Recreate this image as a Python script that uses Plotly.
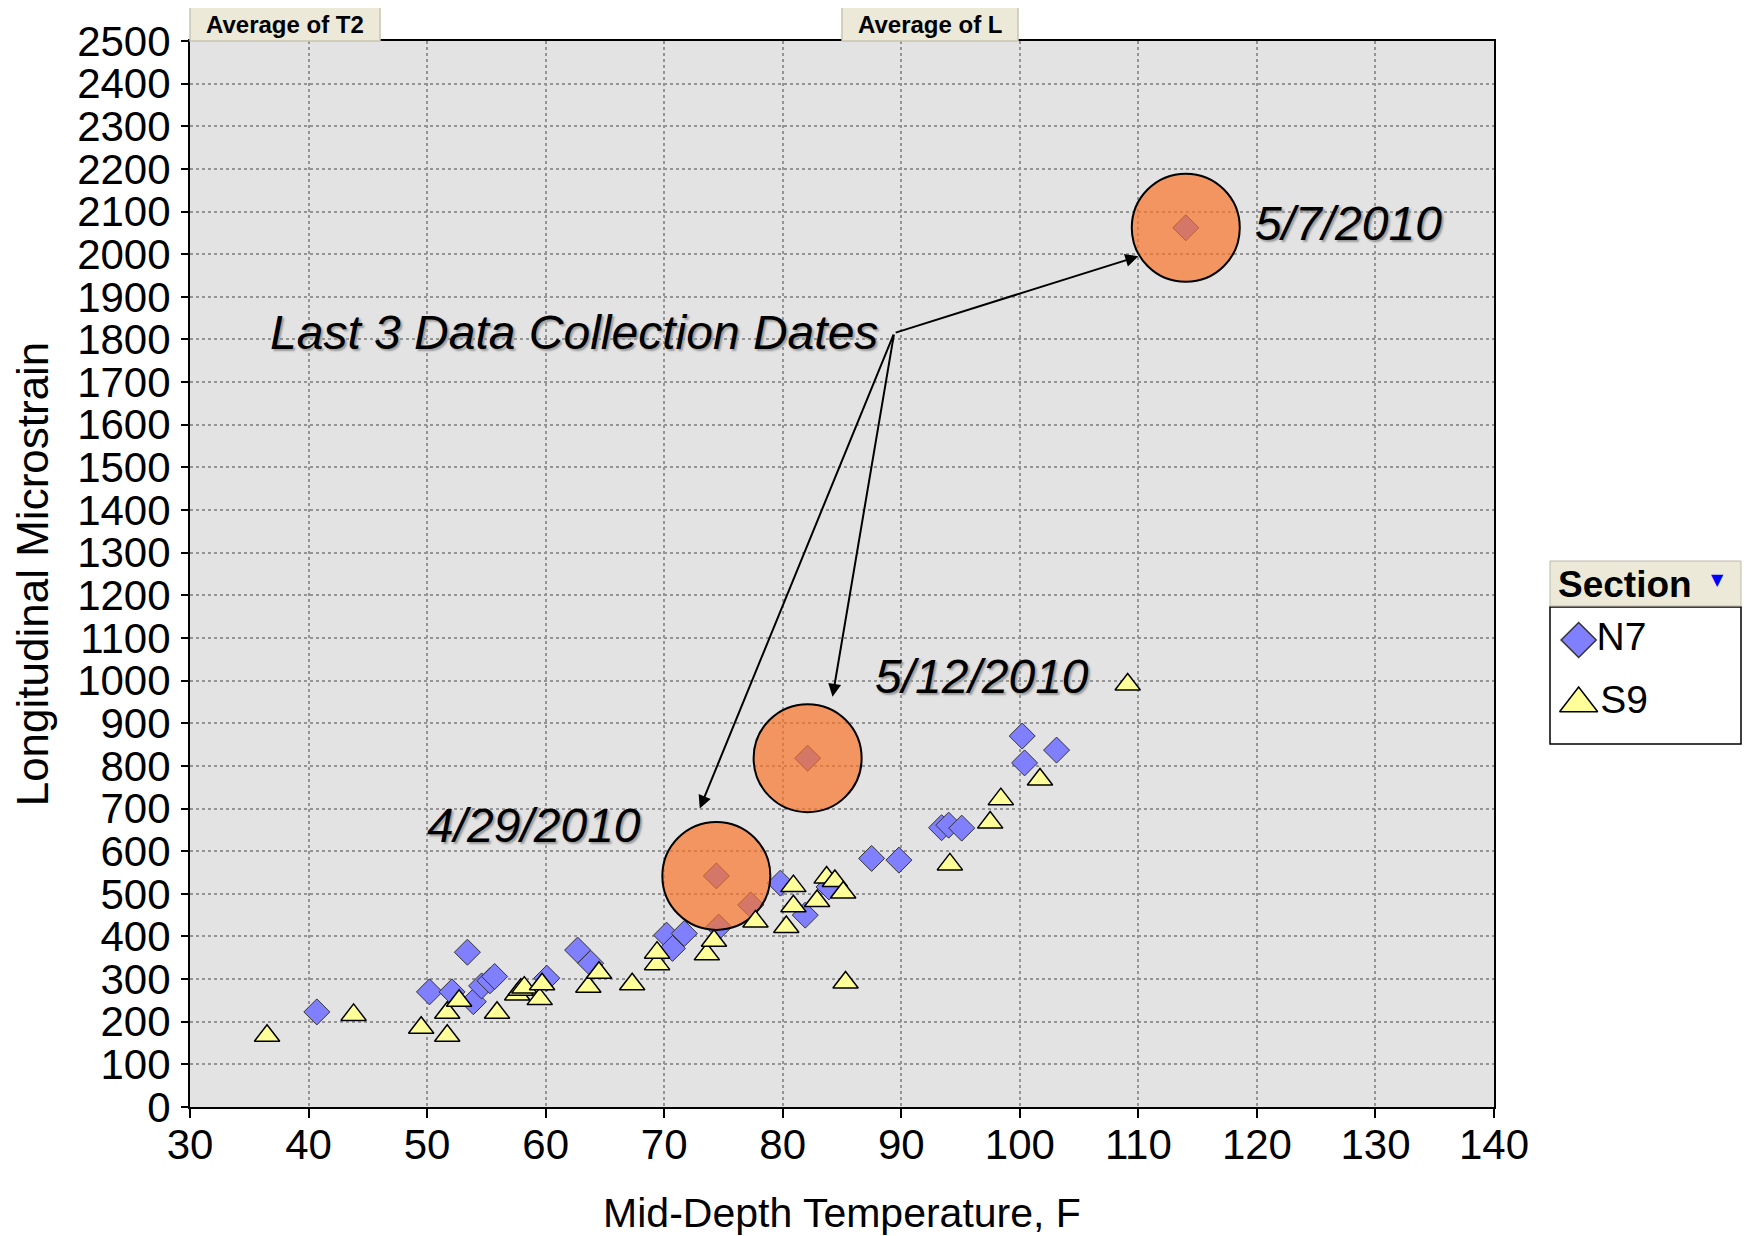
import plotly.graph_objects as go

# ---------------- data ----------------
series_names = ["N7", "S9"]

n7_temp = [40.7, 50.2, 52.1, 53.4, 53.9, 54.6, 55.3, 55.7, 60.1, 62.7, 63.8,
           70.2, 70.7, 71.7, 74.6, 74.4, 77.3, 79.8, 81.9, 83.9, 87.5, 89.8,
           93.4, 94.0, 95.1, 100.2, 100.4, 103.1, 82.1, 114.0]
n7_strain = [223, 270, 270, 363, 247, 284, 296, 306, 302, 368, 337,
             403, 372, 407, 422, 542, 474, 525, 450, 516, 583, 579,
             655, 661, 654, 870, 807, 837, 818, 2062]

s9_temp = [36.5, 43.8, 49.5, 51.7, 51.7, 52.7, 55.9, 57.6, 57.9, 58.2, 59.5,
           59.7, 63.6, 64.5, 67.3, 69.4, 69.4, 73.6, 74.2, 77.7, 80.3, 80.9,
           80.9, 82.9, 83.7, 84.4, 85.1, 85.3, 94.1, 97.5, 98.4, 101.7, 109.1]
s9_strain = [167, 216, 186, 167, 221, 249, 221, 264, 275, 280, 253,
             288, 282, 315, 288, 335, 362, 358, 390, 435, 422, 471,
             518, 483, 538, 530, 503, 292, 569, 667, 722, 768, 991]

highlight_dates = ["4/29/2010", "5/12/2010", "5/7/2010"]
highlight_temp = [74.4, 82.1, 114.0]
highlight_strain = [542, 818, 2062]

callout_text = "Last 3 Data Collection Dates"
x_ticks = list(range(30, 141, 10))
y_ticks = list(range(0, 2501, 100))
x_title = "Mid-Depth Temperature, F"
y_title = "Longitudinal Microstrain"
legend_title = "Section"
field_buttons = ["Average of T2", "Average of L"]

# ---------------- layout / style ----------------
PAGE_OFF = 8                      # browser body margin
W, H = 1751 - PAGE_OFF, 1236 - PAGE_OFF
# target plot box in page pixels
PL, PR, PT, PB = 190, 1494, 41, 1107
ML, MT = PL - PAGE_OFF, PT - PAGE_OFF
MB = H - (PB - PAGE_OFF)
MR = 2
PW, PH = W - ML - MR, H - MT - MB


def px2x(px):
    return (px - PAGE_OFF - ML) / PW


def py2y(py):
    return (H - MB - (py - PAGE_OFF)) / PH


FONT = "Arial, Liberation Sans, sans-serif"
N7_COLOR = "#8080FF"
S9_COLOR = "#FFFF99"

fig = go.Figure()

fig.add_trace(go.Scatter(
    x=n7_temp, y=n7_strain, mode="markers", name=series_names[0],
    marker=dict(symbol="diamond", size=20, color=N7_COLOR,
                line=dict(color="#333333", width=1)),
    showlegend=False, xaxis="x", yaxis="y"))

fig.add_trace(go.Scatter(
    x=highlight_temp, y=highlight_strain, mode="markers", name="highlight",
    marker=dict(symbol="circle", size=108, color="rgba(250,115,40,0.7)",
                line=dict(color="black", width=2)),
    showlegend=False, hoverinfo="skip", xaxis="x", yaxis="y"))

fig.add_trace(go.Scatter(
    x=s9_temp, y=s9_strain, mode="markers", name=series_names[1],
    marker=dict(symbol="triangle-up", size=22, color=S9_COLOR,
                line=dict(color="black", width=1.5)),
    showlegend=False, xaxis="x", yaxis="y"))

# custom legend (mini axes)
legend_symbols = ["diamond", "triangle-up"]
legend_colors = [N7_COLOR, S9_COLOR]
legend_sizes = [27, 33]
for i, name in enumerate(series_names):
    fig.add_trace(go.Scatter(
        x=[0.15], y=[i], mode="markers+text", text=[name],
        textposition="middle right",
        textfont=dict(family=FONT, size=39, color="black"),
        marker=dict(symbol=legend_symbols[i], size=legend_sizes[i],
                    color=legend_colors[i],
                    line=dict(color="#333333" if i == 0 else "black", width=1.5)),
        showlegend=False, hoverinfo="skip", xaxis="x2", yaxis="y2"))

axis_common = dict(showline=True, linecolor="black", linewidth=2, mirror=True,
                   ticks="outside", tickcolor="black", tickwidth=2,
                   showgrid=True, gridcolor="#949494", gridwidth=1.5,
                   griddash="dot", zeroline=False, automargin=False,
                   tickfont=dict(family=FONT, size=42, color="black"))

fig.update_layout(
    template="none",
    width=W, height=H,
    margin=dict(l=ML, r=MR, t=MT, b=MB, autoexpand=False),
    paper_bgcolor="white",
    plot_bgcolor="rgba(0,0,0,0)",
    font=dict(family=FONT, color="black"),
    xaxis=dict(domain=[0, px2x(PR)], range=[30, 140], tickvals=x_ticks,
               ticklen=9, ticklabelstandoff=-9,
               title=dict(text=x_title, standoff=32,
                          font=dict(family=FONT, size=41)),
               anchor="y", **axis_common),
    yaxis=dict(domain=[0, 1], range=[0, 2500], tickvals=y_ticks,
               ticklen=7, ticklabelstandoff=2,
               title=dict(text=y_title, standoff=18,
                          font=dict(family=FONT, size=44)),
               anchor="x", **axis_common),
    xaxis2=dict(domain=[px2x(1550), px2x(1741)], range=[0, 1], visible=False,
                anchor="y2", fixedrange=True),
    yaxis2=dict(domain=[py2y(744), py2y(607)], range=[1.638, -0.52],
                visible=False, anchor="x2", fixedrange=True),
    showlegend=False,
)

shapes = [
    # plot background
    dict(type="rect", xref="x domain", yref="y domain", x0=0, x1=1, y0=0, y1=1,
         fillcolor="#E3E3E3", line=dict(width=0), layer="below"),
    # legend body
    dict(type="rect", xref="x2 domain", yref="y2 domain", x0=0, x1=1, y0=0, y1=1,
         fillcolor="white", line=dict(color="black", width=1.5), layer="below"),
    # legend header
    dict(type="rect", xref="paper", yref="paper",
         x0=px2x(1550), x1=px2x(1741), y0=py2y(606), y1=py2y(561),
         fillcolor="#ECE9D8", line=dict(color="#BDB9A8", width=1)),
]
button_px = [(190, 380), (842, 1018)]
for (bx0, bx1) in button_px:
    shapes.append(dict(type="rect", xref="paper", yref="paper",
                       x0=px2x(bx0), x1=px2x(bx1), y0=py2y(41), y1=py2y(7),
                       fillcolor="#ECE9D8", line=dict(color="#C9C5B2", width=1.5)))
fig.update_layout(shapes=shapes)

annotations = []
for (bx0, bx1), label in zip(button_px, field_buttons):
    annotations.append(dict(
        xref="paper", yref="paper", x=px2x((bx0 + bx1) / 2), y=py2y(24),
        text="<b>" + label + "</b>", showarrow=False,
        xanchor="center", yanchor="middle",
        font=dict(family=FONT, size=24, color="black")))

annotations.append(dict(
    xref="paper", yref="paper", x=px2x(1556), y=py2y(584),
    text="<b>" + legend_title + "</b>", showarrow=False,
    xanchor="left", yanchor="middle",
    font=dict(family=FONT, size=37, color="black")))
annotations.append(dict(
    xref="paper", yref="paper", x=px2x(1717), y=py2y(580),
    text="▼", showarrow=False, xanchor="center", yanchor="middle",
    font=dict(family="DejaVu Sans", size=16, color="#0000FF")))

# date labels (label anchor positions)
label_pos = [(68.2, 660, "right"), (87.6, 1009, "left"), (119.7, 2073, "left")]
shadow = "2px 2px 2px #9a9a9a"
for (lx, ly, anc), d in zip(label_pos, highlight_dates):
    annotations.append(dict(
        x=lx, y=ly, xref="x", yref="y", text="<i>" + d + "</i>",
        showarrow=False, xanchor=anc, yanchor="middle",
        font=dict(family=FONT, size=48, color="black", shadow=shadow)))

# callout text and arrows
tail = (89.4, 1815)
annotations.append(dict(
    x=36.6, y=1817, xref="x", yref="y", text="<i>" + callout_text + "</i>",
    showarrow=False, xanchor="left", yanchor="middle",
    font=dict(family=FONT, size=48, color="black", shadow=shadow)))
arrow_tips = [(73.0, 700), (84.2, 962), (110.0, 1995)]
for (hx, hy) in arrow_tips:
    annotations.append(dict(
        x=hx, y=hy, xref="x", yref="y", ax=tail[0], ay=tail[1],
        axref="x", ayref="y", text="", showarrow=True,
        arrowhead=2, arrowsize=1.3, arrowwidth=2, arrowcolor="black"))

fig.update_layout(annotations=annotations)

fig.write_html("out.html")
